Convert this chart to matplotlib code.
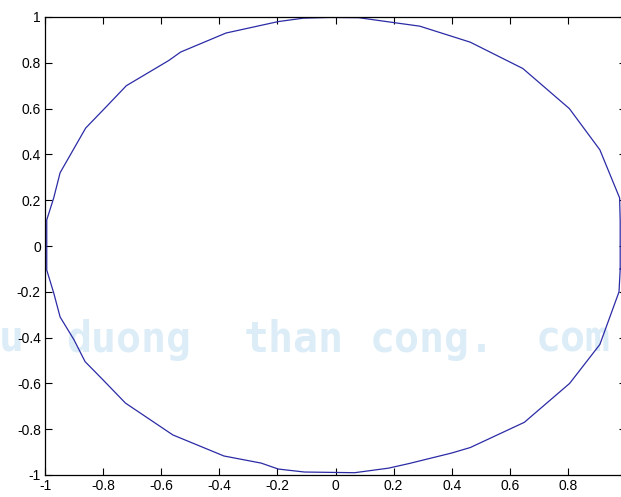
import matplotlib
matplotlib.use("Agg")
import matplotlib.pyplot as plt
from matplotlib.ticker import FuncFormatter

# vertices of the polygonal "circle" (counter-clockwise)
x_pts = [0.98, 0.98, 0.978, 0.91, 0.805, 0.645, 0.464, 0.29, 0.204, 0.08,
         -0.02, -0.11, -0.197, -0.377, -0.533, -0.574, -0.72, -0.79, -0.86,
         -0.948, -0.97, -0.994, -0.994, -0.97, -0.948, -0.90, -0.862, -0.80,
         -0.723, -0.56, -0.384, -0.256, -0.197, -0.107, 0.066, 0.183, 0.253,
         0.40, 0.464, 0.65, 0.806, 0.91, 0.976, 0.98]
y_pts = [-0.10, 0.11, 0.21, 0.42, 0.60, 0.775, 0.89, 0.96, 0.975, 0.997,
         0.998, 0.995, 0.98, 0.93, 0.847, 0.81, 0.70, 0.607, 0.515,
         0.32, 0.21, 0.114, -0.105, -0.205, -0.31, -0.41, -0.505, -0.585,
         -0.686, -0.825, -0.917, -0.948, -0.974, -0.987, -0.99, -0.97, -0.95,
         -0.904, -0.88, -0.77, -0.60, -0.43, -0.20, -0.10]

x_ticks = [-1, -0.8, -0.6, -0.4, -0.2, 0, 0.2, 0.4, 0.6, 0.8, 1]
y_ticks = [-1, -0.8, -0.6, -0.4, -0.2, 0, 0.2, 0.4, 0.6, 0.8, 1]

# watermark words and their left edges (pixels)
wm_words = ["cuu", "duong", "than", "cong.", "com"]
wm_left = [-50, 66, 244, 370, 536]

plt.rcParams['font.family'] = ['Liberation Sans', 'DejaVu Sans']

W, H = 621, 497
fig = plt.figure(figsize=(W / 100, H / 100), dpi=100)
fig.patch.set_facecolor('white')

for word, left in zip(wm_words, wm_left):
    fig.text(left / W, 1 - 352 / H, word, family='DejaVu Sans Mono',
             fontsize=30, color='#dcedf8', fontweight='bold', zorder=-5)

ax = fig.add_axes([45 / W, 22 / H, 581 / W, 458 / H])
ax.patch.set_alpha(0)

ax.plot(x_pts, y_pts, color='#2b2ba6', linewidth=0.9)

ax.set_xlim(-1, 1)
ax.set_ylim(-1, 1)
ax.set_xticks(x_ticks)
ax.set_yticks(y_ticks)
fmt = FuncFormatter(lambda v, p: '%g' % round(v, 2))
ax.xaxis.set_major_formatter(fmt)
ax.yaxis.set_major_formatter(fmt)
ax.tick_params(direction='in', length=5, width=0.8, top=True, right=True,
               labelsize=10, pad=3, colors='black')
for s in ax.spines.values():
    s.set_linewidth(0.9)

plt.savefig('out.png', dpi=100)
